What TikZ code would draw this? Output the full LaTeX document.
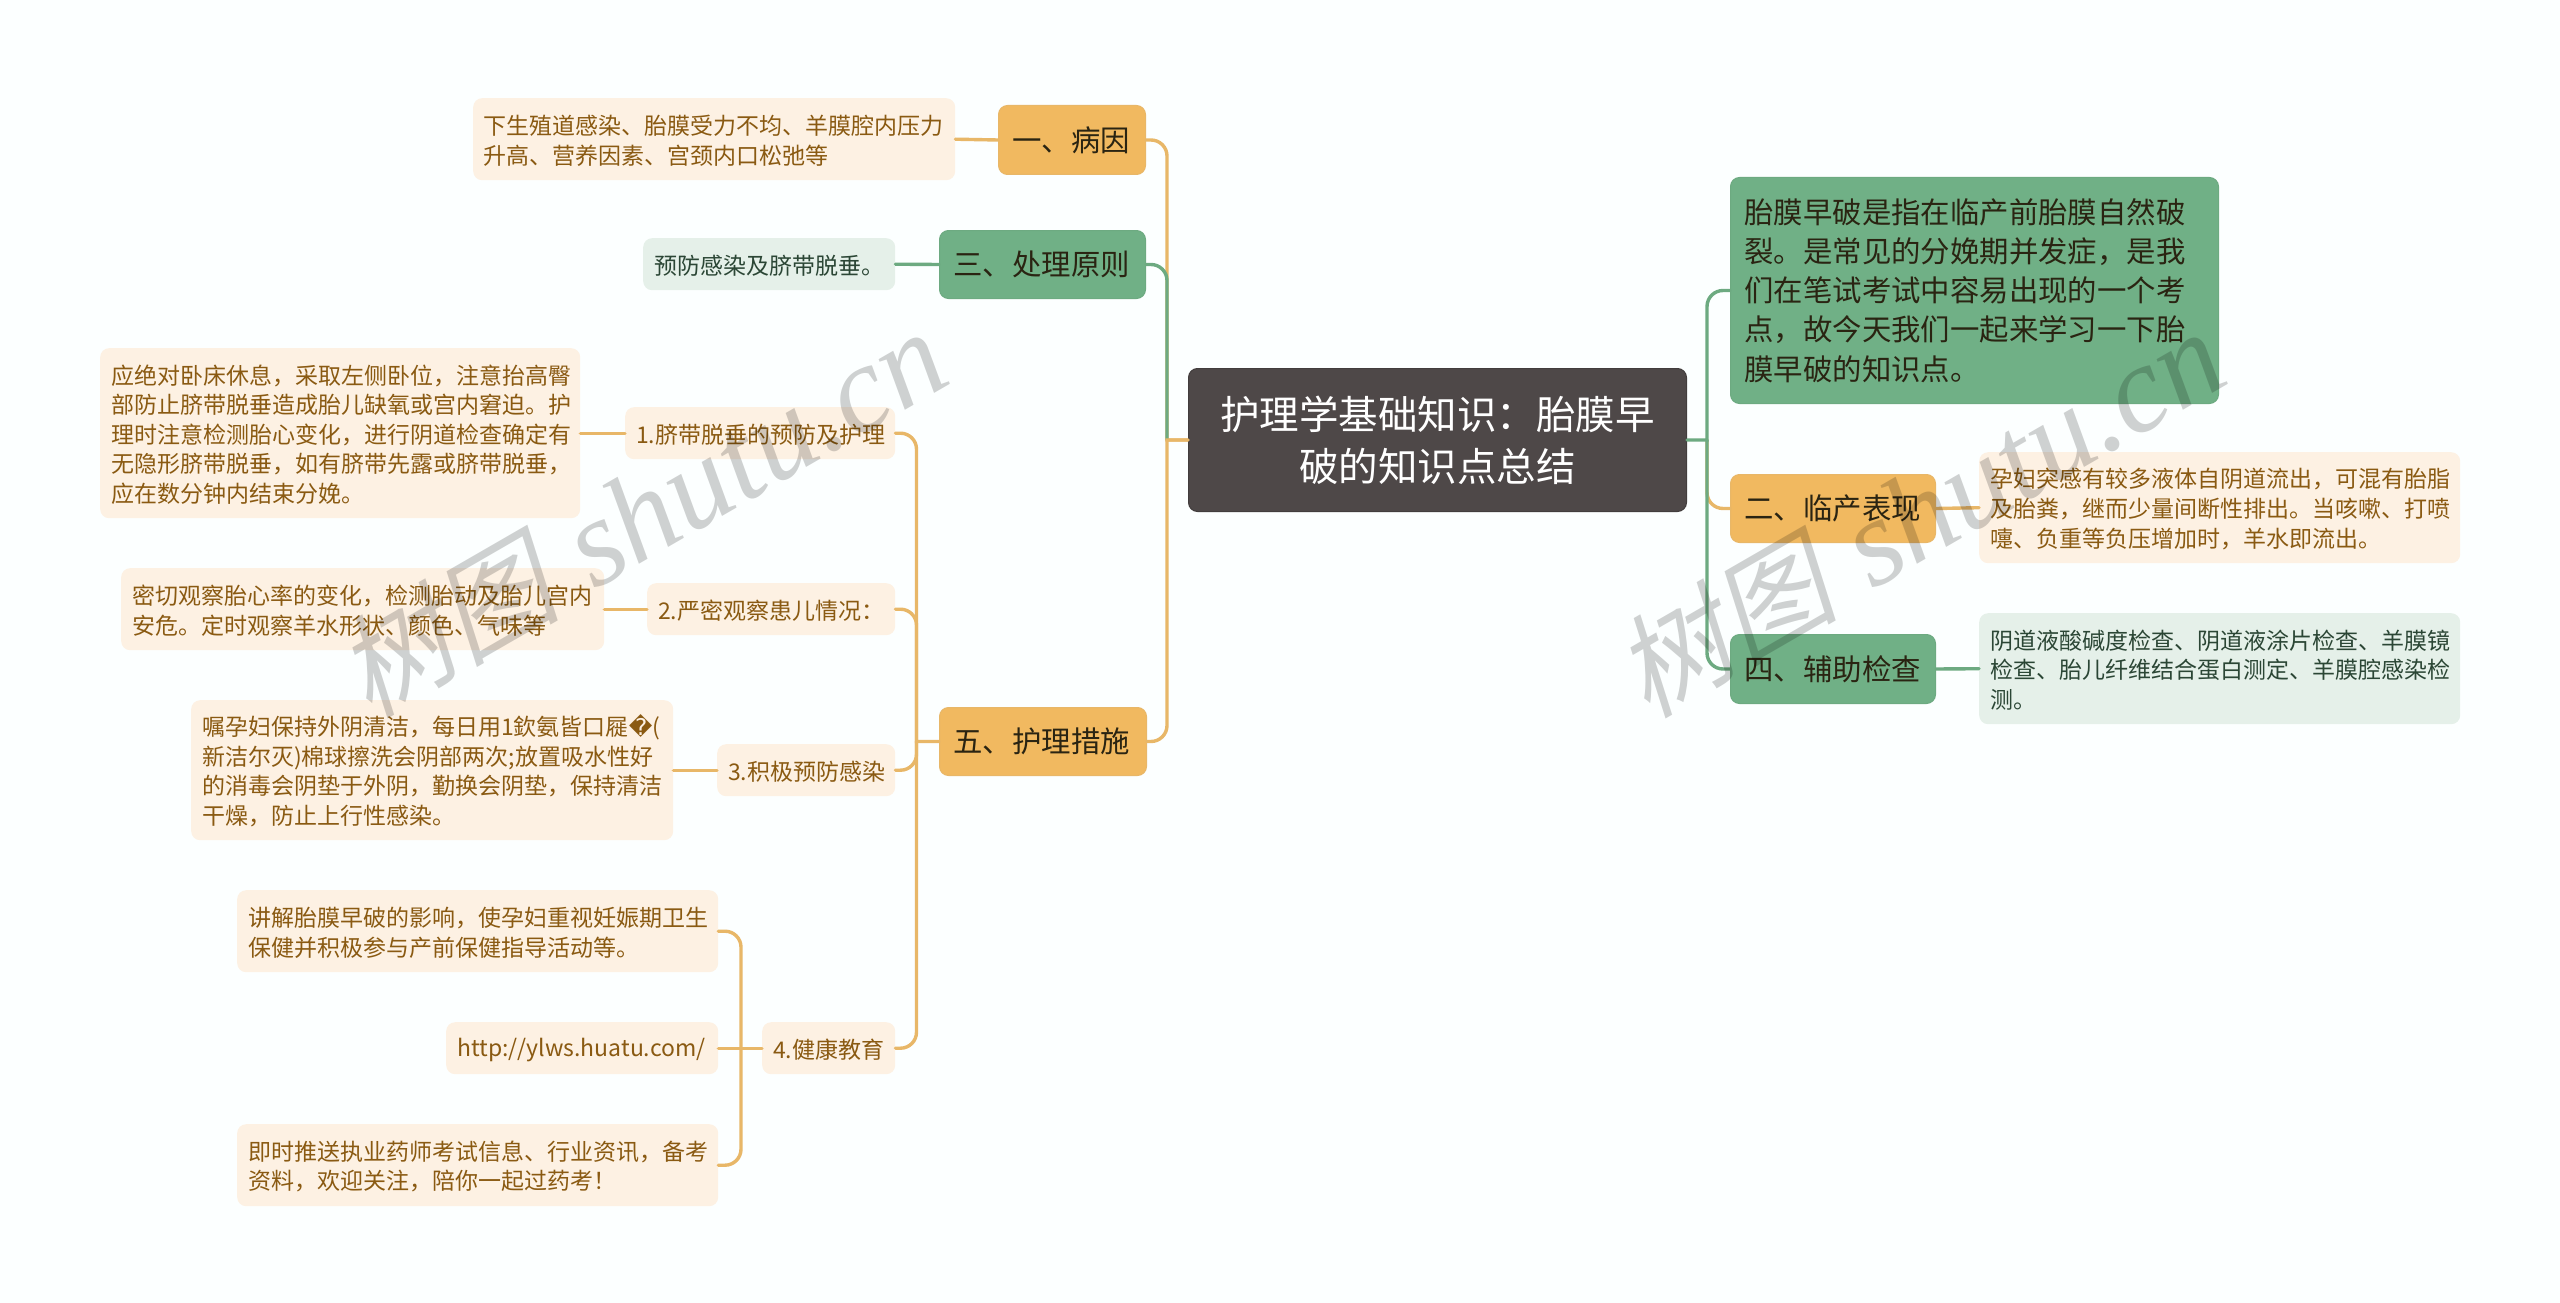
\documentclass[tikz,border=0pt]{standalone}
\usepackage{fontspec}
\setmainfont{Noto Sans CJK SC}
\newfontfamily\wmcjk[FakeSlant=0.22]{Noto Sans CJK SC}
\newfontfamily\wmlat{Liberation Serif}[ItalicFont={Liberation Serif Italic}]
\newfontfamily\repl{DejaVu Sans}
\definecolor{bgc}{HTML}{FCFFFF}
\definecolor{orangeF}{HTML}{F1B960}
\definecolor{orangeL}{HTML}{E8B768}
\definecolor{greenF}{HTML}{70B086}
\definecolor{greenL}{HTML}{6DAA81}
\definecolor{rootF}{HTML}{4E4848}
\definecolor{leafO}{HTML}{FDF1E3}
\definecolor{leafG}{HTML}{E5F0E9}
\definecolor{textO}{HTML}{8A5A12}
\definecolor{textG}{HTML}{2B4635}
\definecolor{textT}{HTML}{2A2412}
\tikzset{
  boxsize/.code n args={3}{\pgfmathsetmacro\tw{#1-2*#3}\tikzset{minimum width=#1pt,minimum height=#2pt,text width=\tw pt,inner xsep=#3pt,inner ysep=0pt}},
  base/.style={anchor=north west,rounded corners=9pt,align=left},
  topO/.style={base,fill=orangeF,draw=orangeL,line width=1pt,text=textT,font=\fontsize{29.4}{39.2}\selectfont},
  topG/.style={base,fill=greenF,draw=greenL,line width=1pt,text=textT,font=\fontsize{29.4}{39.2}\selectfont},
  rootbox/.style={base,fill=rootF,draw=rootF!85!black,line width=1pt,text=white,align=center,font=\fontsize{39.5}{52}\selectfont},
  leafOr/.style={base,fill=leafO,text=textO,font=\fontsize{23}{29.6}\selectfont,execute at begin node={\rule{0pt}{22pt}}},
  leafGr/.style={base,fill=leafG,text=textG,font=\fontsize{23}{29.6}\selectfont,execute at begin node={\rule{0pt}{22pt}}},
  connO/.style={draw=orangeL,line width=3.4pt,line cap=round},
  connG/.style={draw=greenL,line width=3.4pt,line cap=round},
  wmark/.style={text=black,opacity=0.18,rotate=30,inner sep=0pt},
  rc/.style={rounded corners=16pt}
}
\begin{document}
\begin{tikzpicture}[x=1pt,y=-1pt]
\useasboundingbox (0,0) rectangle (2560,1303);
\fill[bgc] (0,0) rectangle (2560,1303);
% spines
\coordinate (spA) at (1167,0);
\coordinate (spB) at (1707,0);
\coordinate (spC) at (916.5,0);
\coordinate (spD) at (741,0);
% nodes
\node[rootbox,boxsize={498}{143}{20}] (root) at (1188,368) {护理学基础知识：胎膜早\\破的知识点总结};
\node[topO,boxsize={147}{69}{14}] (a1) at (998,105) {一、病因};
\node[topG,boxsize={206}{68}{14}] (a3) at (939,230) {三、处理原则};
\node[topO,boxsize={207}{68}{14}] (a5) at (939,707) {五、护理措施};
\node[topG,boxsize={488}{226}{14}] (b0) at (1730,177) {胎膜早破是指在临产前胎膜自然破\\裂。是常见的分娩期并发症，是我\\们在笔试考试中容易出现的一个考\\点，故今天我们一起来学习一下胎\\膜早破的知识点。};
\node[topO,boxsize={205}{68}{14}] (b2) at (1730,474) {二、临产表现};
\node[topG,boxsize={205}{69}{14}] (b4) at (1730,634) {四、辅助检查};
\node[leafOr,boxsize={482}{82}{10.5}] (la1) at (473,98) {下生殖道感染、胎膜受力不均、羊膜腔内压力\\升高、营养因素、宫颈内口松弛等};
\node[leafGr,boxsize={252}{52}{11}] (la3) at (643,238) {预防感染及脐带脱垂。};
\node[leafOr,boxsize={270}{52}{11}] (c1) at (625,407) {1.脐带脱垂的预防及护理};
\node[leafOr,boxsize={248}{52}{11}] (c2) at (647,583) {2.严密观察患儿情况：};
\node[leafOr,boxsize={178}{52}{11}] (c3) at (717,744) {3.积极预防感染};
\node[leafOr,boxsize={133}{52}{11}] (c4) at (762,1022) {4.健康教育};
\node[leafOr,boxsize={480}{170}{11}] (d1) at (100,348) {应绝对卧床休息，采取左侧卧位，注意抬高臀\\部防止脐带脱垂造成胎儿缺氧或宫内窘迫。护\\理时注意检测胎心变化，进行阴道检查确定有\\无隐形脐带脱垂，如有脐带先露或脐带脱垂，\\应在数分钟内结束分娩。};
\node[leafOr,boxsize={483}{82}{11}] (d2) at (121,568) {密切观察胎心率的变化，检测胎动及胎儿宫内\\安危。定时观察羊水形状、颜色、气味等};
\node[leafOr,boxsize={482}{140}{11}] (d3) at (191,700) {嘱孕妇保持外阴清洁，每日用1欽氨皆口屣{\repl �}(\\新洁尔灭)棉球擦洗会阴部两次;放置吸水性好\\的消毒会阴垫于外阴，勤换会阴垫，保持清洁\\干燥，防止上行性感染。};
\node[leafOr,boxsize={481}{82}{11}] (e1) at (237,890) {讲解胎膜早破的影响，使孕妇重视妊娠期卫生\\保健并积极参与产前保健指导活动等。};
\node[leafOr,boxsize={272}{52}{11}] (e2) at (446,1022) {http://ylws.huatu.com/};
\node[leafOr,boxsize={481}{82}{11}] (e3) at (237,1124) {即时推送执业药师考试信息、行业资讯，备考\\资料，欢迎关注，陪你一起过药考！};
\node[leafOr,boxsize={481}{111}{11}] (lb2) at (1979,452) {孕妇突感有较多液体自阴道流出，可混有胎脂\\及胎粪，继而少量间断性排出。当咳嗽、打喷\\嚏、负重等负压增加时，羊水即流出。};
\node[leafGr,boxsize={481}{111}{11}] (lb4) at (1979,613) {阴道液酸碱度检查、阴道液涂片检查、羊膜镜\\检查、胎儿纤维结合蛋白测定、羊膜腔感染检\\测。};
% connectors, left of the root
\draw[connO] (root.west) -- (spA|-root.west) [rc] -- (spA|-a1.east) -- (a1.east);
\draw[connG] (spA|-root.west) [rc] -- (spA|-a3.east) -- (a3.east);
\draw[connO] (root.west) -- (spA|-root.west) [rc] -- (spA|-a5.east) -- (a5.east);
\draw[connO] (a1.west) -- (la1.east);
\draw[connG] (a3.west) -- (la3.east);
% connectors of the care branch
\draw[connO] (a5.west) -- (spC|-a5.west) [rc] -- (spC|-c1.east) -- (c1.east);
\draw[connO] (spC|-a5.west) [rc] -- (spC|-c2.east) -- (c2.east);
\draw[connO] (spC|-a5.west) [rc] -- (spC|-c3.east) -- (c3.east);
\draw[connO] (spC|-a5.west) [rc] -- (spC|-c4.east) -- (c4.east);
\draw[connO] (c1.west) -- (d1.east);
\draw[connO] (c2.west) -- (d2.east);
\draw[connO] (c3.west) -- (d3.east);
\draw[connO] (c4.west) -- (e2.east);
\draw[connO] (spD|-c4.west) [rc] -- (spD|-e1.east) -- (e1.east);
\draw[connO] (spD|-c4.west) [rc] -- (spD|-e3.east) -- (e3.east);
% connectors, right of the root
\draw[connO] (spB|-root.east) [rc] -- (spB|-b2.west) -- (b2.west);
\draw[connG] (root.east) -- (spB|-root.east) [rc] -- (spB|-b0.west) -- (b0.west);
\draw[connG] (spB|-root.east) [rc] -- (spB|-b4.west) -- (b4.west);
\draw[connO] (b2.east) -- (lb2.west);
\draw[connG] (b4.east) -- (lb4.west);
% watermarks
\node[wmark] (wm1) at (641,514) {\fontsize{112}{112}\selectfont{\wmcjk 树图}\hspace{10pt} {\wmlat\itshape\fontsize{124}{124}\selectfont shutu.cn}};
\node[wmark] (wm2) at (1919,514) {\fontsize{112}{112}\selectfont{\wmcjk 树图}\hspace{10pt} {\wmlat\itshape\fontsize{124}{124}\selectfont shutu.cn}};
\end{tikzpicture}
\end{document}
